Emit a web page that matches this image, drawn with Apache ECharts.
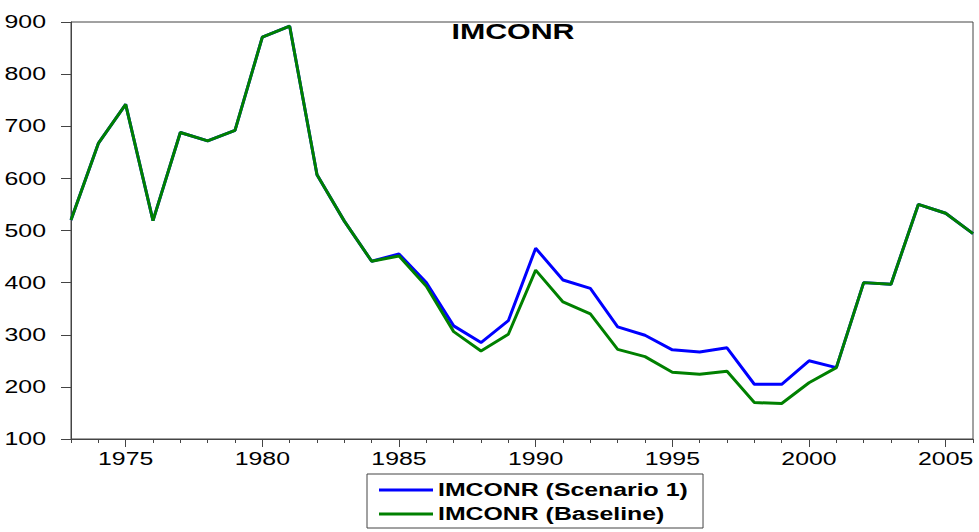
<!DOCTYPE html>
<html>
<head>
<meta charset="utf-8">
<title>IMCONR</title>
<script src="https://cdn.jsdelivr.net/npm/echarts@6/dist/echarts.min.js"></script>
<style>
  html, body { margin: 0; padding: 0; background: #fff; }
  #chart { width: 979px; height: 532px; }
</style>
</head>
<body>
<div id="chart"></div>
<script>
// Annual observations, 1973-2006
const years = [];
for (let y = 1973; y <= 2006; y++) years.push(String(y));

const scenario1 = [520, 667, 742, 519, 688, 672, 692, 871, 892, 607, 518, 441,
  455, 400, 317, 285, 327, 466, 405, 389, 315, 299, 271, 267, 275, 205, 205, 250,
  237, 400, 397, 550, 533, 494];
const baseline = [520, 667, 742, 519, 688, 672, 692, 871, 892, 607, 518, 441,
  451, 393, 306, 269, 301, 424, 363, 340, 272, 258, 228, 224, 230, 170, 168, 208,
  237, 400, 397, 550, 533, 494];

const seriesNames = ['IMCONR (Scenario 1)', 'IMCONR (Baseline)'];
const titleText = 'IMCONR';

const FONT = '"Liberation Sans", Arial, sans-serif';
const AXIS_COLOR = '#444';
const TEXT_STRETCH = 1.38;

const chart = echarts.init(document.getElementById('chart'), null, { renderer: 'svg' });

const isMajor = (i) => (Number(years[i]) % 5) === 0;

chart.setOption({
  animation: false,
  backgroundColor: '#fff',
  title: {
    text: titleText,
    left: 513,
    top: 21,
    padding: 0,
    textAlign: 'center',
    textStyle: { fontFamily: FONT, fontSize: 22, fontWeight: 'bold', color: '#000' }
  },
  legend: {
    orient: 'vertical',
    left: 367,
    top: 474,
    padding: [6, 84, 4, 12],
    itemGap: 4,
    itemWidth: 54,
    itemHeight: 3,
    icon: 'rect',
    borderColor: AXIS_COLOR,
    borderWidth: 1,
    data: seriesNames,
    textStyle: { fontFamily: FONT, fontSize: 18, fontWeight: 'bold', color: '#000', lineHeight: 20 }
  },
  grid: {
    left: 71, right: 6, top: 22, bottom: 93,
    show: true, borderColor: AXIS_COLOR, borderWidth: 1, backgroundColor: 'transparent'
  },
  xAxis: [{
    type: 'category',
    data: years,
    boundaryGap: false,
    axisLine: { lineStyle: { color: AXIS_COLOR, width: 1 } },
    axisTick: { inside: false, length: 4, interval: 0, lineStyle: { color: AXIS_COLOR } },
    axisLabel: {
      interval: (i) => isMajor(i),
      margin: 11,
      fontFamily: FONT, fontSize: 18, color: '#000'
    },
    splitLine: { show: false }
  }, {
    // longer ticks on the five-year marks
    type: 'category',
    data: years,
    boundaryGap: false,
    position: 'bottom',
    axisLine: { show: false },
    axisTick: { length: 8, interval: (i) => isMajor(i), lineStyle: { color: AXIS_COLOR } },
    axisLabel: { show: false },
    splitLine: { show: false }
  }],
  yAxis: {
    type: 'value',
    min: 100,
    max: 900,
    interval: 100,
    axisLine: { show: true, lineStyle: { color: AXIS_COLOR, width: 1 } },
    axisTick: { show: true, inside: false, length: 10, lineStyle: { color: AXIS_COLOR } },
    axisLabel: { margin: 25, fontFamily: FONT, fontSize: 18, color: '#000' },
    splitLine: { show: false }
  },
  series: [{
    name: seriesNames[0],
    type: 'line',
    data: scenario1,
    symbol: 'none',
    color: '#0000ff',
    lineStyle: { color: '#0000ff', width: 3 }
  }, {
    name: seriesNames[1],
    type: 'line',
    data: baseline,
    symbol: 'none',
    color: '#008000',
    lineStyle: { color: '#008000', width: 3 }
  }]
});

// Widen the glyphs horizontally, keeping each label's anchor point fixed
function widenText() {
  document.querySelectorAll('#chart svg text').forEach((t) => {
    if (t.getAttribute('data-wide')) return;
    const b = t.getBBox();
    const anchor = getComputedStyle(t).textAnchor || t.getAttribute('text-anchor') || 'start';
    let ax = b.x;
    if (anchor === 'end') ax = b.x + b.width;
    else if (anchor === 'middle') ax = b.x + b.width / 2;
    const tr = t.getAttribute('transform') || '';
    t.setAttribute('transform',
      `${tr} translate(${ax} 0) scale(${TEXT_STRETCH} 1) translate(${-ax} 0)`.trim());
    t.setAttribute('data-wide', '1');
  });
}
chart.on('finished', widenText);
setTimeout(widenText, 50);
</script>
</body>
</html>
